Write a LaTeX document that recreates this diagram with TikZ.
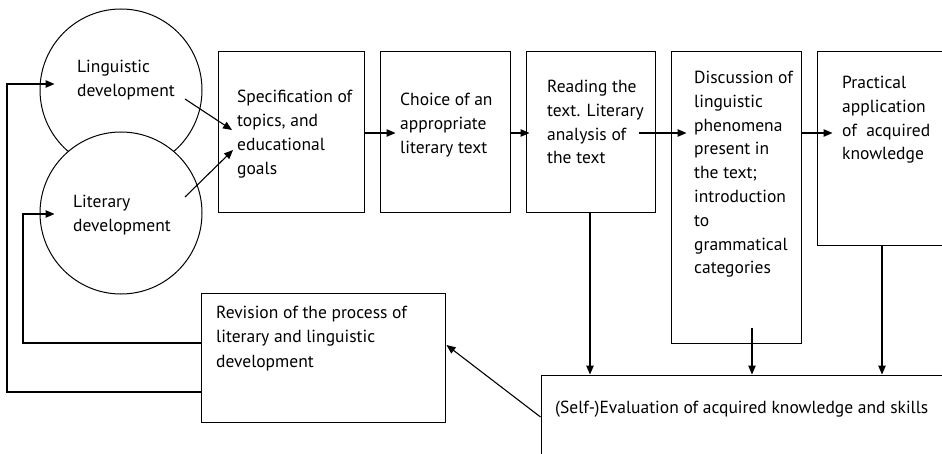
\documentclass[tikz,border=0pt]{standalone}
\usepackage{fontspec}
\setmainfont{PT Sans}
\usetikzlibrary{arrows.meta,calc}
\tikzset{
  boxshape/.style={draw, line width=1pt, rectangle, fill=white, inner sep=0pt},
  circ/.style={draw, line width=1pt, circle, fill=white, minimum size=162pt, inner sep=0pt},
  txt/.style={anchor=north west, inner sep=0pt, align=left, font=\fontsize{17.5}{23.8}\selectfont},
  revtxt/.style={txt, font=\fontsize{17.5}{24.4}\selectfont},
  arr/.style={line width=1.1pt, -{Triangle[length=9pt,width=7.5pt]}}
}
\begin{document}
\begin{tikzpicture}[x=1pt,y=-1pt]
\useasboundingbox (0,0) rectangle (942,454);
% circles
\node[circ] (ling) at (121,90) {};
\node[circ] (lit) at (121,213) {};
% boxes
\node[boxshape, minimum width=146pt, minimum height=161pt] (spec) at (291,132.5) {};
\node[boxshape, minimum width=130pt, minimum height=161pt] (choice) at (445,132.5) {};
\node[boxshape, minimum width=129pt, minimum height=161pt] (reading) at (590.5,132.5) {};
\node[boxshape, minimum width=130pt, minimum height=291pt] (disc) at (736,197.5) {};
\node[boxshape, minimum width=160pt, minimum height=194pt] (prac) at (897,149) {};
\node[boxshape, minimum width=430pt, minimum height=100pt] (eval) at (756,425) {};
\node[boxshape, minimum width=244pt, minimum height=128pt] (rev) at (323,358) {};
% texts
\node[txt] (tling) at (77,60) {Linguistic\\development};
\node[txt] (tlit) at (73,195) {Literary\\development};
\node[txt] (tspec) at (237,90) {Specification of\\topics, and\\educational\\goals};
\node[txt] (tchoice) at (400,93) {Choice of an\\appropriate\\literary text};
\node[txt] (tread) at (547,80) {Reading the\\text. Literary\\analysis of\\the text};
\node[txt] (tdisc) at (694,71) {Discussion of\\linguistic\\phenomena\\present in\\the text;\\introduction\\to\\grammatical\\categories};
\node[txt] (tprac) at (842,76) {Practical\\application\\of~ acquired\\knowledge};
\node[revtxt] (trev) at (216,306) {Revision of the process of\\literary and linguistic\\development};
\node[txt] (teval) at (555,401) {(Self-)Evaluation of acquired knowledge and skills};
% connector end points
\coordinate (a1s) at (185,99);
\coordinate (a1e) at (232,130);
\coordinate (a2s) at (185,197);
\coordinate (a2e) at (233,150);
% arrows
\draw[arr] (a1s) -- (a1e);
\draw[arr] (a2s) -- (a2e);
\draw[arr] (spec.east |- 0,133) -- ($(choice.west |- 0,133)+(16,0)$);
\draw[arr] (choice.east |- 0,133) -- ($(reading.west |- 0,133)+(4,0)$);
\draw[arr] ($(reading.east |- 0,133)+(-17,0)$) -- ($(disc.west |- 0,133)+(16,0)$);
\draw[arr] (disc.east |- 0,133) -- ($(prac.west |- 0,133)+(16,0)$);
\draw[arr] (reading.south -| 590,0) -- (eval.north -| 590,0);
\draw[arr] ($(disc.south -| 752,0)+(0,-16)$) -- (eval.north -| 752,0);
\draw[arr] (prac.south -| 882,0) -- (eval.north -| 882,0);
\draw[arr] (eval.west |- 0,417) -- ($(rev.east |- 0,345)+(1,0)$);
\draw[arr] (rev.west |- 0,392) -| (7,84) -- ($(ling.west |- 0,84)+(15,0)$);
\draw[arr] (rev.west |- 0,343) -| (23,214) -- ($(lit.west |- 0,214)+(15,0)$);
\end{tikzpicture}
\end{document}
